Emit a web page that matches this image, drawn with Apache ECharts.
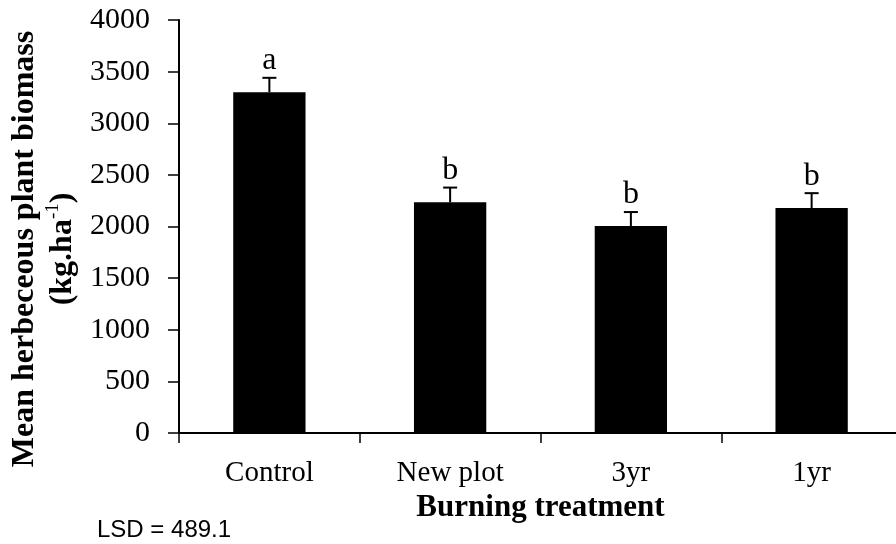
<!DOCTYPE html>
<html>
<head>
<meta charset="utf-8">
<script src="https://cdn.jsdelivr.net/npm/echarts@6/dist/echarts.min.js"></script>
<style>
  html, body { margin: 0; padding: 0; background: #fff; }
  #chart { width: 896px; height: 544px; }
</style>
</head>
<body>
<div id="chart"></div>
<script>
// Mean herbaceous biomass per burning treatment, with standard errors and LSD groupings
const categories = ['Control', 'New plot', '3yr', '1yr'];
const biomass = [3300, 2235, 2005, 2178];
const stdErrors = [140, 142, 135, 145];
const groupLetters = ['a', 'b', 'b', 'b'];
const yTicks = { min: 0, max: 4000, interval: 500 };
const yTitle = 'Mean herbeceous plant biomass\n(kg.ha{sup|-1})';
const xTitle = 'Burning treatment';
const lsdNote = 'LSD = 489.1';

const serif = '"Liberation Serif", "Times New Roman", serif';

const chart = echarts.init(document.getElementById('chart'), null, { renderer: 'canvas' });

chart.setOption({
  animation: false,
  backgroundColor: '#ffffff',
  grid: { left: 179, right: -6, top: 20, bottom: 111, containLabel: false, outerBoundsMode: 'none' },
  xAxis: {
    type: 'category',
    data: categories,
    axisLine: { show: true, lineStyle: { color: '#000', width: 2 } },
    axisTick: { show: true, length: 10, lineStyle: { color: '#000', width: 1.5 } },
    axisLabel: { color: '#000', fontFamily: serif, fontSize: 29, margin: 26 },
    name: xTitle,
    nameLocation: 'middle',
    nameGap: 58,
    nameTextStyle: { color: '#000', fontFamily: serif, fontSize: 31, fontWeight: 'bold' }
  },
  yAxis: {
    type: 'value',
    min: yTicks.min,
    max: yTicks.max,
    interval: yTicks.interval,
    axisLine: { show: true, lineStyle: { color: '#000', width: 2 } },
    axisTick: { show: true, length: 11, lineStyle: { color: '#000', width: 1.5 } },
    splitLine: { show: false },
    axisLabel: { color: '#000', fontFamily: serif, fontSize: 30, margin: 29, formatter: v => String(v) }
  },
  series: [
    {
      type: 'bar',
      data: biomass,
      barWidth: '40%',
      itemStyle: { color: '#000' },
      silent: true
    },
    {
      type: 'custom',
      data: biomass.map((v, i) => [i, v, stdErrors[i]]),
      z: 3,
      renderItem: function (params, api) {
        const x = api.value(0);
        const v = api.value(1);
        const e = api.value(2);
        const base = api.coord([x, v]);
        const top = api.coord([x, v + e]);
        const half = 7;
        return {
          type: 'group',
          children: [
            { type: 'line', shape: { x1: base[0], y1: base[1], x2: top[0], y2: top[1] }, style: { stroke: '#000', lineWidth: 2 } },
            { type: 'line', shape: { x1: top[0] - half, y1: top[1], x2: top[0] + half, y2: top[1] }, style: { stroke: '#000', lineWidth: 2 } },
            {
              type: 'text',
              x: top[0], y: top[1] - 1,
              style: {
                text: groupLetters[params.dataIndex],
                fill: '#000', font: '32px ' + serif,
                align: 'center', verticalAlign: 'bottom'
              }
            }
          ]
        };
      }
    }
  ],
  graphic: [
    {
      // rotated two-line y-axis title with superscript unit
      type: 'text',
      x: 44, y: 249,
      rotation: Math.PI / 2,
      style: {
        text: yTitle,
        fill: '#000',
        font: 'bold 32px ' + serif,
        lineHeight: 38,
        align: 'center',
        verticalAlign: 'middle',
        rich: {
          sup: { font: '19px ' + serif, fill: '#000', verticalAlign: 'top', lineHeight: 38, padding: [0, 0, 14, 0] }
        }
      }
    },
    {
      type: 'text',
      left: 97, top: 518,
      style: { text: lsdNote, fill: '#000', font: '24px "Liberation Sans", sans-serif' }
    }
  ]
});
</script>
</body>
</html>
